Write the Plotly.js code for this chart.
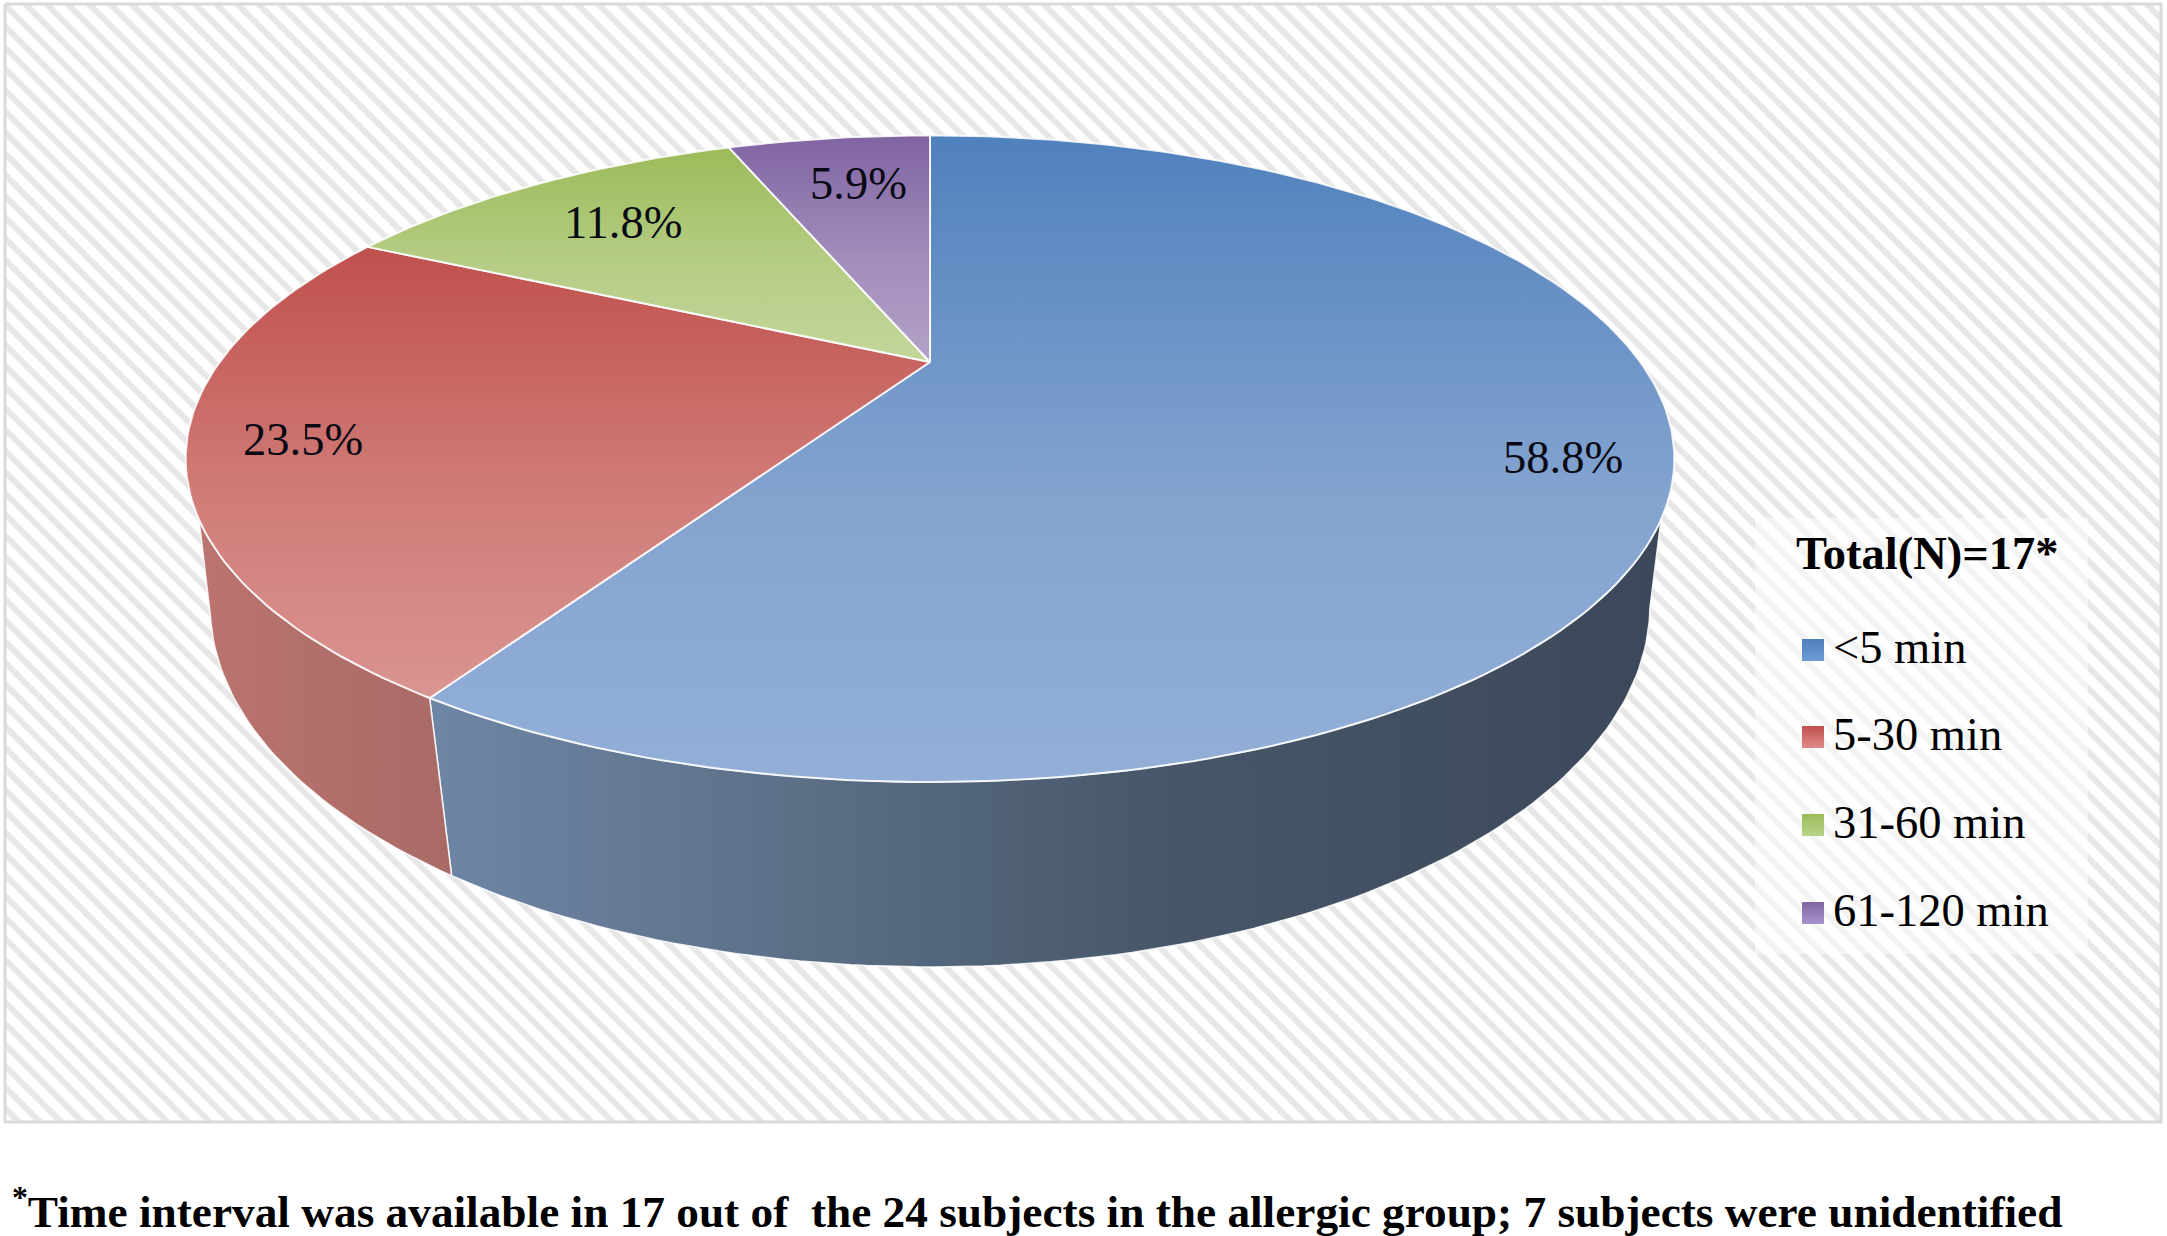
<!DOCTYPE html>
<html>
<head>
<meta charset="utf-8">
<script src="https://cdn.plot.ly/plotly-3.0.1.min.js"></script>
<style>
  html, body { margin: 0; padding: 0; background: #fff; }
  #vis { width: 2167px; height: 1236px; }
</style>
</head>
<body>
<div id="vis"></div>
<script>
const categories = ['<5 min', '5-30 min', '31-60 min', '61-120 min']
const values = [58.8, 23.5, 11.8, 5.9]
const legendTitle = 'Total(N)=17*'
const footnote = '<sup>*</sup>Time interval was available in 17 out of  the 24 subjects in the allergic group; 7 subjects were unidentified'

// gradients, top of the slice / middle / bottom
const topColors = [
  ['#4f81bd', '#83a3cf', '#93afd8'],
  ['#c0504d', '#d07c78', '#da9491'],
  ['#9bbb59', '#b6cd85', '#c3d69b'],
  ['#8064a2', '#a28dbb', '#b3a2c7']
]
const swatchColors = [['#4f81bd', '#6c9bd4'], ['#c0504d', '#e08a88'], ['#9bbb59', '#b8d48a'], ['#8064a2', '#a794cc']]

// the pie is a disc seen in perspective: u right, v towards the viewer
const CX = 930
const topFace = { y0: 362, a: 710.3, b: 294.4, k: 0.299 }
const bottomFace = { y0: 503, a: 690, b: 331.7, k: 0.285 }

function project(face, deg) {
  const t = deg * Math.PI / 180
  const u = Math.sin(t)
  const v = -Math.cos(t)
  const w = 1 - face.k * v
  return [CX + face.a * u / w, face.y0 + face.b * v / w]
}

function rim(face, from, to) {
  const pts = []
  const n = Math.max(2, Math.ceil(Math.abs(to - from)))
  for (let i = 0; i <= n; i++) pts.push(project(face, from + (to - from) * i / n))
  return pts
}

const edge = 'rgba(255,255,255,0.85)'
const traces = []

// hatched panel
traces.push({
  x: [5, 2161, 2161, 5, 5],
  y: [4, 4, 1122, 1122, 4],
  type: 'scatter', mode: 'lines', fill: 'toself',
  line: { color: '#dadada', width: 3 },
  fillcolor: '#ffffff',
  fillpattern: { shape: '\\', size: 15, solidity: 0.4, fgcolor: '#e7e7e7', bgcolor: '#ffffff' },
  hoverinfo: 'skip'
})

// whitish box behind the legend
traces.push({
  x: [1755, 2088, 2088, 1755, 1755],
  y: [518, 518, 954, 954, 518],
  type: 'scatter', mode: 'lines', fill: 'toself',
  line: { width: 0 },
  fillcolor: 'rgba(255,255,255,0.5)',
  hoverinfo: 'skip'
})

// slice boundaries in degrees, clockwise from 12 o'clock
const total = values.reduce((a, b) => a + b, 0)
const bounds = [0]
values.forEach(v => bounds.push(bounds[bounds.length - 1] + v / total * 360))

// only the two front slices show a side wall
const seam = bounds[1]
function sideWall(topRange, bottomRange, colors) {
  const pts = rim(topFace, topRange[0], topRange[1]).concat(rim(bottomFace, bottomRange[0], bottomRange[1]))
  pts.push(pts[0])
  const xs = pts.map(p => p[0])
  traces.push({
    x: xs,
    y: pts.map(p => p[1]),
    type: 'scatter', mode: 'lines', fill: 'toself',
    line: { color: edge, width: 1.5 },
    fillgradient: {
      type: 'horizontal',
      colorscale: colors,
      start: Math.min(...xs),
      stop: Math.max(...xs)
    },
    hoverinfo: 'skip'
  })
}
sideWall([117.5, seam], [seam, 107], [[0, '#6e86a5'], [0.25, '#5f738c'], [0.6, '#475769'], [1, '#3b4859']])
sideWall([seam, 242.5], [253, seam], [[0, '#bb7470'], [1, '#a96a65']])

// top face
values.forEach((v, i) => {
  const all = [[CX, topFace.y0]].concat(rim(topFace, bounds[i], bounds[i + 1]))
  all.push(all[0])
  const ys = all.map(p => p[1])
  traces.push({
    x: all.map(p => p[0]),
    y: ys,
    type: 'scatter', mode: 'lines', fill: 'toself',
    line: { color: edge, width: 2 },
    fillgradient: {
      type: 'vertical',
      colorscale: [[0, topColors[i][0]], [0.55, topColors[i][1]], [1, topColors[i][2]]],
      start: Math.min(...ys),
      stop: Math.max(...ys)
    },
    name: categories[i],
    hoverinfo: 'name'
  })
})

// legend swatches
const legendX = 1813
const legendY = [650, 737, 825, 913]
traces.push({
  x: categories.map(() => legendX),
  y: legendY,
  type: 'scatter', mode: 'markers',
  marker: {
    symbol: 'square', size: 22,
    color: swatchColors.map(c => c[0]),
    gradient: { type: 'vertical', color: swatchColors.map(c => c[1]) },
    line: { width: 0 }
  },
  hoverinfo: 'skip'
})

const serif = '"Liberation Serif", "Times New Roman", serif'
const labelX = [1563, 303, 623, 858]
const labelY = [457, 439, 222, 183]
const annotations = []

values.forEach((v, i) => {
  annotations.push({
    x: labelX[i], y: labelY[i], xref: 'x', yref: 'y',
    text: v.toFixed(1) + '%', showarrow: false,
    font: { family: serif, size: 46.5, color: '#0a0a14' }
  })
})

annotations.push({
  x: 1794, y: 553, xref: 'x', yref: 'y', xanchor: 'left',
  text: legendTitle, showarrow: false,
  font: { family: serif, size: 46.5, weight: 'bold', color: '#000' }
})

categories.forEach((c, i) => {
  annotations.push({
    x: 1831, y: legendY[i] - 3, xref: 'x', yref: 'y', xanchor: 'left',
    text: c.replace('<', '&lt;'), showarrow: false,
    font: { family: serif, size: 46.5, color: '#000' }
  })
})

annotations.push({
  x: 10, y: 1208, xref: 'x', yref: 'y', xanchor: 'left',
  text: footnote, showarrow: false,
  font: { family: serif, size: 45.3, weight: 'bold', color: '#000' }
})

const layout = {
  width: 2167,
  height: 1236,
  margin: { l: 0, r: 0, t: 0, b: 0 },
  paper_bgcolor: '#ffffff',
  plot_bgcolor: '#ffffff',
  showlegend: false,
  xaxis: { range: [0, 2167], visible: false, fixedrange: true },
  yaxis: { range: [1236, 0], visible: false, fixedrange: true },
  annotations: annotations
}

Plotly.newPlot('vis', traces, layout, { displayModeBar: false })
</script>
</body>
</html>
